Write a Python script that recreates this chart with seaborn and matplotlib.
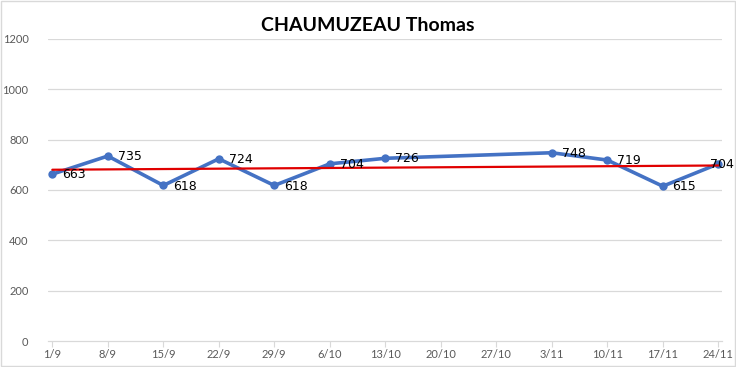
import numpy as np
import pandas as pd
import matplotlib
matplotlib.use("Agg")
import matplotlib.pyplot as plt
import seaborn as sns

dates = ["1/9", "8/9", "15/9", "22/9", "29/9", "6/10", "13/10", "20/10", "27/10",
         "3/11", "10/11", "17/11", "24/11"]
values = [663, 735, 618, 724, 618, 704, 726, None, None, 748, 719, 615, 704]
title = "CHAUMUZEAU Thomas"
yticks = [0, 200, 400, 600, 800, 1000, 1200]

sns.set_theme(style="white")
plt.rcParams['font.family'] = ['Lato', 'DejaVu Sans']

df = pd.DataFrame({"idx": np.arange(len(dates)), "date": dates, "value": values}).dropna()
df["value"] = df["value"].astype(float)

fig = plt.figure(figsize=(7.36, 3.67), dpi=100)
ax = fig.add_axes([48 / 736, 26 / 367, 674 / 736, 302 / 367])

for y in yticks[1:]:
    ax.axhline(y, color="#D9D9D9", lw=0.9, zorder=0)

sns.lineplot(data=df, x="idx", y="value", ax=ax, color="#4472C4", lw=2.6,
             marker="o", markersize=6, markeredgewidth=0, zorder=3)
sns.regplot(data=df, x="idx", y="value", ax=ax, scatter=False, ci=None,
            truncate=True, color="#E00000", line_kws={"lw": 1.6, "zorder": 4})

last = df["idx"].max()
for _, r in df.iterrows():
    dx = -5.7 if r["idx"] == last else 7
    ax.annotate(f"{int(r['value'])}", (r["idx"], r["value"]), xytext=(dx, -0.5),
                textcoords="offset points", fontsize=9, color="#000000",
                fontfamily="DejaVu Sans", va="center", ha="left", zorder=5,
                annotation_clip=False)

ax.set_xlim(-0.078, len(dates) - 1 + 0.067)
ax.set_ylim(0, 1200)
ax.set_xticks(np.arange(len(dates)))
ax.set_xticklabels(dates)
ax.set_yticks(yticks)
ax.set_xlabel("")
ax.set_ylabel("")
for s in ["left", "right", "top"]:
    ax.spines[s].set_visible(False)
ax.spines["bottom"].set_color("#D9D9D9")
ax.spines["bottom"].set_linewidth(0.9)
ax.tick_params(axis="x", length=4, width=0.8, color="#D9D9D9", labelsize=8,
               labelcolor="#595959", pad=2, bottom=True)
ax.tick_params(axis="y", length=0, labelsize=8, labelcolor="#595959", pad=14)

fig.text(0.5, 0.93, title, ha="center", va="center", fontsize=14,
         fontweight="bold", color="black")

fig.patches.append(matplotlib.patches.Rectangle((0.002, 0.003), 0.996, 0.994,
                   transform=fig.transFigure, fill=False, edgecolor="#D9D9D9", lw=1))

fig.savefig("out.png", dpi=100)
